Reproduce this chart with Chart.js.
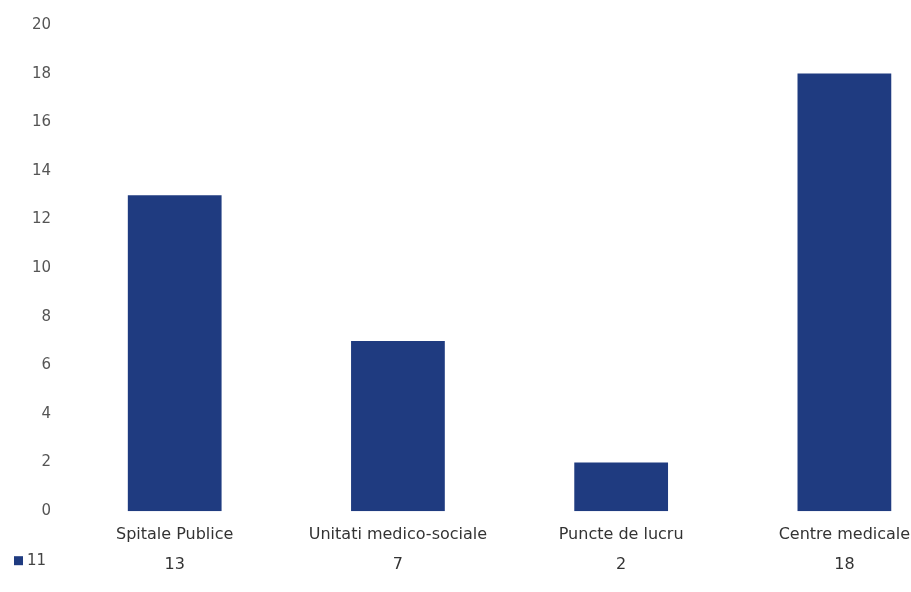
<!DOCTYPE html>
<html>
<head>
<meta charset="utf-8">
<script src="https://cdn.jsdelivr.net/npm/chart.js@4.4.0/dist/chart.umd.min.js"></script>
<style>
    html, body { margin: 0; padding: 0; background: #fff; overflow: hidden; }
    /* el gráfico original está recortado a la derecha */
    #wrap { width: 956px; height: 592px; }
</style>
</head>
<body>
<div id="wrap"><canvas id="graficoUnitati"></canvas></div>
<script>
// Datos del gráfico
var categorias = ['Spitale Publice', 'Unitati medico-sociale', 'Puncte de lucru', 'Centre medicale'];
var cantidades = [13, 7, 2, 18];
var serie = '11';
var ticksY = [0, 2, 4, 6, 8, 10, 12, 14, 16, 18, 20];

(function () {

    var fuente = '"DejaVu Sans", sans-serif';

    // Leyenda al lado de la fila de valores (como en la tabla de datos de Excel)
    var leyendaTabla = {
        id: 'leyendaTabla',
        afterDraw: function (chart) {
            var ctx = chart.ctx;
            var x = chart.scales.x;
            var y = x.top + 50;
            ctx.save();
            ctx.fillStyle = '#1f3b80';
            ctx.fillRect(14, y - 5, 9, 9);
            ctx.fillStyle = '#444';
            ctx.font = '15px ' + fuente;
            ctx.textBaseline = 'middle';
            ctx.fillText(serie, 27, y);
            ctx.restore();
        }
    };

    var ctx = document.getElementById('graficoUnitati').getContext('2d');
    var grafico = new Chart(ctx, {
        type: 'bar',
        data: {
            labels: categorias.map(function (c, i) { return [c, String(cantidades[i])]; }),
            datasets: [{
                label: serie,
                data: cantidades,
                backgroundColor: '#1f3b80',
                barPercentage: 0.42,
                categoryPercentage: 1
            }]
        },
        options: {
            responsive: true,
            maintainAspectRatio: false,
            animation: false,
            layout: { padding: { top: 25, left: 28, right: 0, bottom: 12 } },
            plugins: {
                legend: { display: false },
                tooltip: { enabled: false }
            },
            scales: {
                y: {
                    min: 0,
                    max: 20,
                    afterBuildTicks: function (scale) {
                        scale.ticks = ticksY.map(function (v) { return { value: v }; });
                    },
                    grid: { display: false },
                    border: { display: false },
                    ticks: {
                        color: '#555',
                        padding: 4,
                        font: { family: fuente, size: 15 }
                    }
                },
                x: {
                    grid: { display: false },
                    border: { display: false },
                    ticks: {
                        color: '#333',
                        padding: 0,
                        maxRotation: 0,
                        autoSkip: false,
                        font: { family: fuente, size: 16, lineHeight: 1.9 }
                    }
                }
            }
        },
        plugins: [leyendaTabla]
    });

})();
</script>
</body>
</html>
